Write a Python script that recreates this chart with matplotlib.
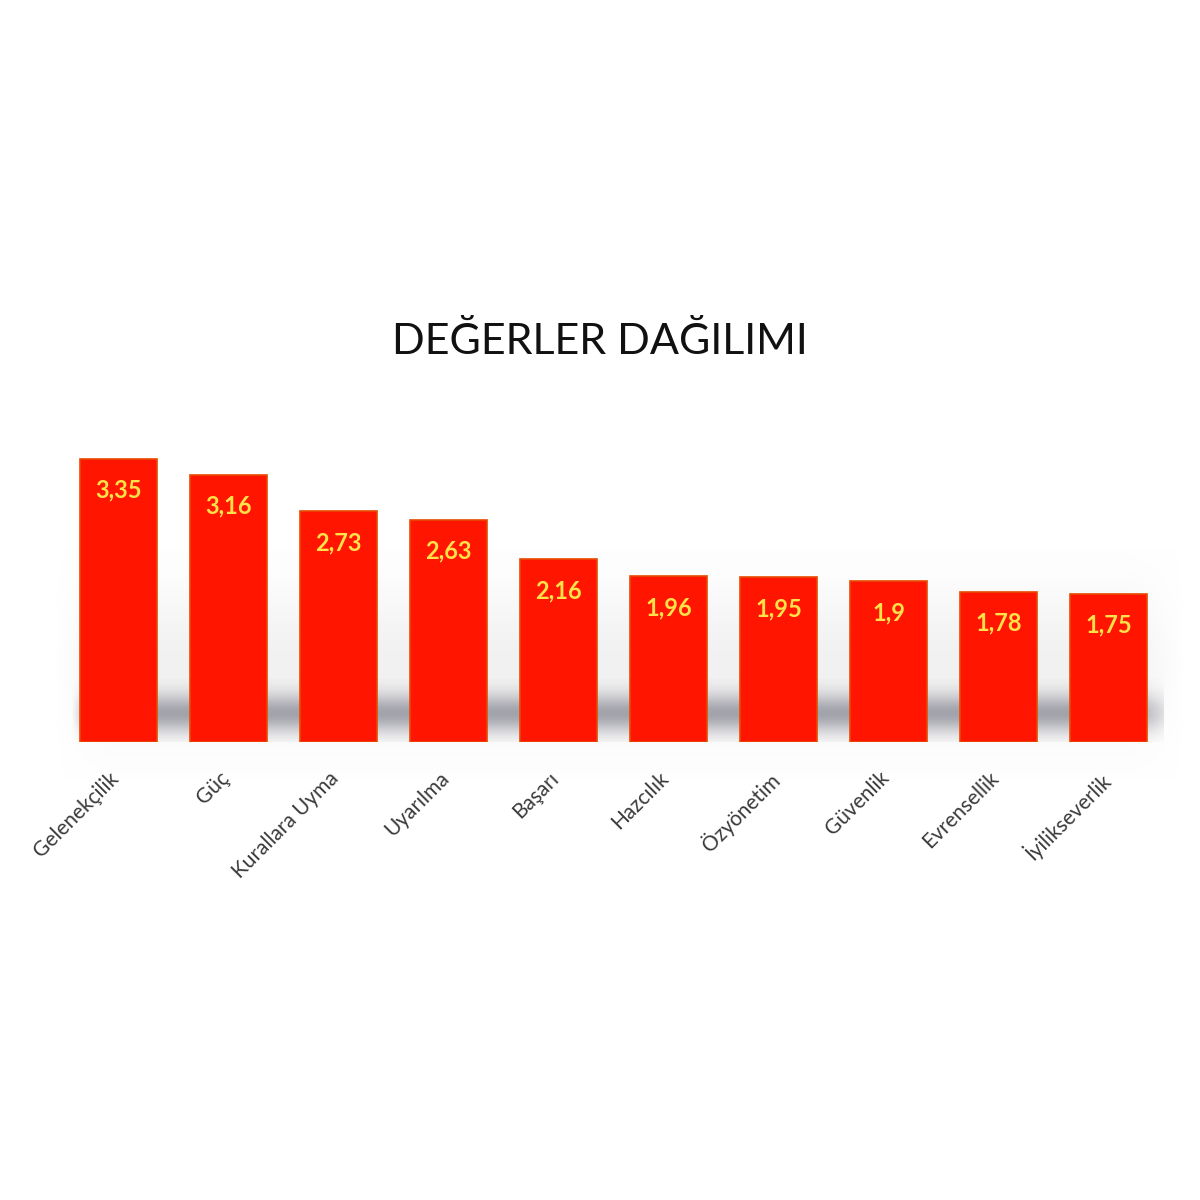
import numpy as np
import matplotlib.pyplot as plt
import matplotlib.transforms as mtransforms

# Değerler dağılımı - ortalama puanlar
categories = ['Gelenekçilik', 'Güç', 'Kurallara Uyma', 'Uyarılma', 'Başarı',
              'Hazcılık', 'Özyönetim', 'Güvenlik', 'Evrensellik', 'İyilikseverlik']
values = [3.35, 3.16, 2.73, 2.63, 2.16, 1.96, 1.95, 1.9, 1.78, 1.75]
value_labels = ['3,35', '3,16', '2,73', '2,63', '2,16', '1,96', '1,95', '1,9', '1,78', '1,75']

plt.rcParams['font.family'] = ['Lato', 'DejaVu Sans']

fig = plt.figure(figsize=(12, 12), dpi=100)
ax = fig.add_axes([0.053, 0.3817, 0.9167, 0.2817])

x = np.arange(len(categories))

# soft grey shadow band behind the bars (just styling)
prof = np.linspace(0, 1, 120)
horiz = np.linspace(0, 1, 200)
shade = np.exp(-((prof - 0.45) / 0.3) ** 2)
hfade = np.clip(np.minimum(horiz / 0.02, (1 - horiz) / 0.04), 0, 1)
img = np.zeros((120, 200, 4))
img[..., 0] = 0.5
img[..., 1] = 0.5
img[..., 2] = 0.55
img[..., 3] = shade[:, None] * hfade[None, :] * 0.7
ax.imshow(img, extent=(-0.45, 9.65, 0, 0.75), origin='lower', aspect='auto',
          interpolation='bilinear', zorder=1)
# very faint backdrop
bfade = np.clip(np.minimum(horiz / 0.05, (1 - horiz) / 0.05), 0, 1)
bg = np.zeros((120, 200, 4))
bg[..., :3] = 0.85
bg[..., 3] = np.exp(-((prof - 0.5) / 0.3) ** 2)[:, None] * bfade[None, :] * 0.35
ax.imshow(bg, extent=(-0.6, 9.7, -0.45, 2.3), origin='lower', aspect='auto',
          interpolation='bilinear', zorder=0, clip_on=False)

ax.bar(x, values, width=0.7, color='#FF1500', edgecolor='#E84A00',
       linewidth=1.2, zorder=3)

for xi, v, lab in zip(x, values, value_labels):
    ax.text(xi, v - 0.37, lab, ha='center', va='center', color='#FFE14A',
            fontsize=17, fontweight='bold', zorder=4)

ax.set_xlim(-0.5, 9.5)
ax.set_ylim(0, 4)
ax.set_xticks(x)
ax.set_xticklabels([])
ax.tick_params(axis='x', length=0)

# rotated category labels, nudged left of the bar centre
offset = mtransforms.ScaledTranslation(-10 / 100, -26 / 100, fig.dpi_scale_trans)
for xi, cat in zip(x, categories):
    ax.text(xi, 0, cat, transform=ax.get_xaxis_transform() + offset,
            rotation=45, ha='right', va='top', rotation_mode='anchor',
            fontsize=15, color='#3a3a3a', clip_on=False)

ax.set_yticks([])
for s in ax.spines.values():
    s.set_visible(False)

fig.text(0.5, 0.715, 'DEĞERLER DAĞILIMI', ha='center', va='center',
         fontsize=31, color='#111111')

plt.savefig('out.png', dpi=100)
